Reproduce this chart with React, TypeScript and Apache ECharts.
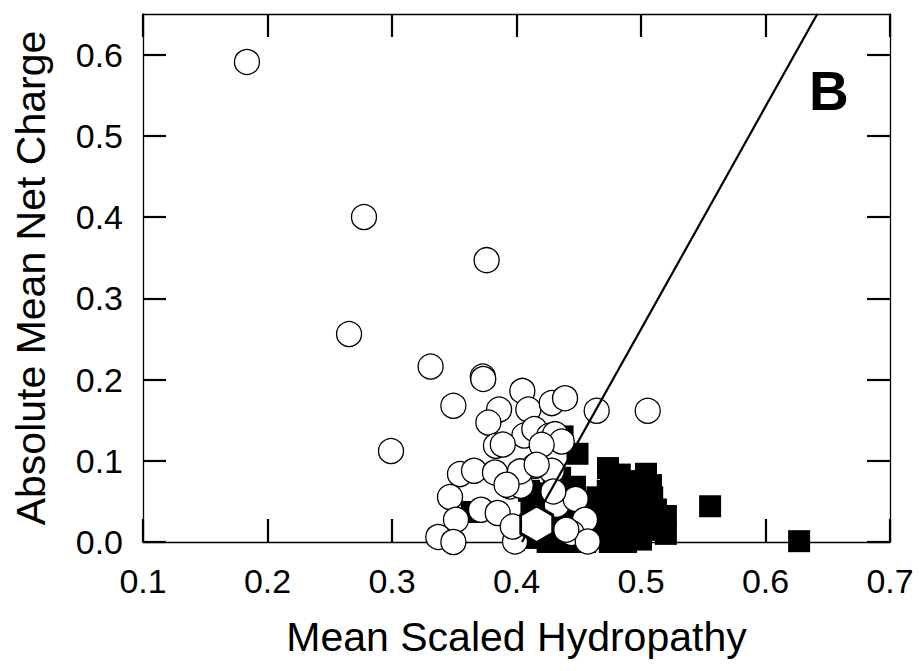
import React, { useEffect, useRef } from "react";
import * as echarts from "echarts";

// Open circles (mean scaled hydropathy, absolute mean net charge)
const CIRCLE_H = [
  0.1835, 0.2775, 0.376, 0.2655, 0.331, 0.3729, 0.3733, 0.2992, 0.3493, 0.4047,
  0.386, 0.4095, 0.4283, 0.439, 0.4644, 0.5054, 0.3774, 0.4063, 0.4143, 0.4263,
  0.431, 0.4363, 0.3835, 0.4202, 0.3546, 0.3659, 0.3827, 0.4149, 0.4283, 0.3948,
  0.4034, 0.3466, 0.3715, 0.3849, 0.3514, 0.4323, 0.4475, 0.455, 0.3372, 0.3493,
  0.3988, 0.4443, 0.4572, 0.397, 0.44, 0.4296, 0.4028, 0.392, 0.389, 0.4162,
];
const CIRCLE_R = [
  0.591, 0.4, 0.347, 0.256, 0.216, 0.2037, 0.2007, 0.112, 0.1677, 0.186,
  0.163, 0.163, 0.171, 0.177, 0.1615, 0.1615, 0.147, 0.131, 0.139, 0.1307,
  0.1328, 0.1237, 0.1184, 0.1197, 0.0836, 0.0877, 0.0856, 0.0938, 0.0877, 0.0684,
  0.0692, 0.0553, 0.0397, 0.0357, 0.0274, 0.0459, 0.0529, 0.0274, 0.0062, 0.0,
  0.0007, 0.011, 0.0007, 0.019, 0.0152, 0.0622, 0.0869, 0.0705, 0.12, 0.095,
];

// Filled squares
const SQUARE_H = [
  0.627, 0.5555, 0.437, 0.449, 0.364, 0.447, 0.435,
  0.4735, 0.504, 0.483, 0.489, 0.509, 0.52, 0.52, 0.4733, 0.476, 0.495,
  0.5, 0.49, 0.48, 0.475, 0.47, 0.478, 0.485, 0.495, 0.505, 0.51,
  0.5, 0.488, 0.475, 0.465, 0.462, 0.465, 0.458, 0.455, 0.445, 0.435,
  0.425, 0.428, 0.438, 0.44, 0.45, 0.415, 0.41, 0.412, 0.418, 0.424,
  0.43, 0.435, 0.452, 0.497, 0.512, 0.515, 0.508, 0.482, 0.5,
];
const SQUARE_R = [
  0.001, 0.044, 0.13, 0.1086, 0.037, 0.068, 0.079,
  0.091, 0.084, 0.083, 0.071, 0.055, 0.032, 0.01, 0.063, 0.075, 0.06,
  0.045, 0.04, 0.05, 0.035, 0.02, 0.01, 0.025, 0.015, 0.03, 0.015,
  0.003, 0.0, 0.0, 0.005, 0.04, 0.055, 0.02, 0.0, 0.0, 0.0,
  0.0, 0.015, 0.03, 0.012, 0.035, 0.005, 0.063, 0.045, 0.06, 0.04,
  0.07, 0.055, 0.05, 0.075, 0.04, 0.022, 0.07, 0.065, 0.02,
];

// Hexagon marker
const HEX_H = [0.4162];
const HEX_R = [0.0219];

// Boundary line
const BOUNDARY_H = [0.4044, 0.6416];
const BOUNDARY_R = [0.0, 0.65];

const X_MIN = 0.1;
const X_MAX = 0.7;
const Y_MIN = 0;
const Y_MAX = 0.65;
const Y_TICKS = [0, 0.1, 0.2, 0.3, 0.4, 0.5, 0.6];

const X_TITLE = "Mean Scaled Hydropathy";
const Y_TITLE = "Absolute Mean Net Charge";
const PANEL = "B";

const FONT = "'Liberation Sans', Arial, Helvetica, sans-serif";

const HEX_PATH = "path://M0,-1 L0.866,-0.5 L0.866,0.5 L0,1 L-0.866,0.5 L-0.866,-0.5 Z";

export default function App() {
  const ref = useRef<HTMLDivElement>(null);

  useEffect(() => {
    if (!ref.current) return;
    const chart = echarts.init(ref.current, null, { renderer: "svg" });

    const zip = (a: number[], b: number[]) => a.map((v, i) => [v, b[i]]);

    const tick = { show: true, inside: true, length: 23, lineStyle: { color: "#000", width: 2.2 } };
    const line = { show: true, onZero: false, lineStyle: { color: "#000", width: 1.3 } };

    chart.setOption({
      animation: false,
      backgroundColor: "#fff",
      grid: { left: 143, top: 14, width: 747, height: 528, containLabel: false },
      xAxis: [
        {
          type: "value",
          position: "bottom",
          min: X_MIN,
          max: X_MAX,
          interval: 0.1,
          axisLine: line,
          axisTick: tick,
          splitLine: { show: false },
          axisLabel: {
            show: true,
            margin: 22,
            fontSize: 34,
            fontFamily: FONT,
            color: "#000",
            formatter: (v: number) => v.toFixed(1),
          },
        },
        {
          type: "value",
          position: "top",
          min: X_MIN,
          max: X_MAX,
          interval: 0.1,
          axisLine: line,
          axisTick: tick,
          splitLine: { show: false },
          axisLabel: { show: false },
        },
      ],
      yAxis: [
        {
          type: "value",
          position: "left",
          min: Y_MIN,
          max: Y_MAX,
          interval: 0.1,
          axisLine: line,
          axisTick: { ...tick, customValues: Y_TICKS },
          splitLine: { show: false },
          axisLabel: {
            show: true,
            customValues: Y_TICKS,
            margin: 20,
            fontSize: 34,
            fontFamily: FONT,
            color: "#000",
            formatter: (v: number) => v.toFixed(1),
          },
        },
        {
          type: "value",
          position: "right",
          min: Y_MIN,
          max: Y_MAX,
          interval: 0.1,
          axisLine: line,
          axisTick: { ...tick, customValues: Y_TICKS },
          splitLine: { show: false },
          axisLabel: { show: false },
        },
      ],
      series: [
        {
          type: "scatter",
          name: "squares",
          symbol: "rect",
          symbolSize: 22,
          z: 2,
          itemStyle: { color: "#000", opacity: 1 },
          data: zip(SQUARE_H, SQUARE_R),
        },
        {
          type: "scatter",
          name: "circles",
          symbol: "circle",
          symbolSize: 25,
          z: 3,
          itemStyle: { color: "#fff", borderColor: "#000", borderWidth: 1.3, opacity: 1 },
          data: zip(CIRCLE_H, CIRCLE_R),
        },
        {
          type: "line",
          name: "boundary",
          symbol: "none",
          z: 4,
          lineStyle: { color: "#000", width: 2.2 },
          data: zip(BOUNDARY_H, BOUNDARY_R),
        },
        {
          type: "scatter",
          name: "hexagon",
          symbol: HEX_PATH,
          symbolSize: [32, 37],
          z: 5,
          itemStyle: { color: "#fff", borderColor: "#000", borderWidth: 3, opacity: 1 },
          data: zip(HEX_H, HEX_R),
        },
      ],
      graphic: [
        {
          type: "text",
          x: 516.5,
          y: 636.5,
          style: {
            text: X_TITLE,
            font: `41px ${FONT}`,
            fill: "#000",
            textAlign: "center",
            textVerticalAlign: "middle",
          },
        },
        {
          type: "text",
          x: 30.5,
          y: 278,
          rotation: Math.PI / 2,
          style: {
            text: Y_TITLE,
            font: `41px ${FONT}`,
            fill: "#000",
            textAlign: "center",
            textVerticalAlign: "middle",
          },
        },
        {
          type: "text",
          x: 809,
          y: 91,
          style: {
            text: PANEL,
            font: `bold 55px ${FONT}`,
            fill: "#000",
            textAlign: "left",
            textVerticalAlign: "middle",
          },
        },
      ],
    });

    return () => chart.dispose();
  }, []);

  return (
    <div
      ref={ref}
      style={{ position: "absolute", left: 0, top: 0, width: 920, height: 671 }}
    />
  );
}
